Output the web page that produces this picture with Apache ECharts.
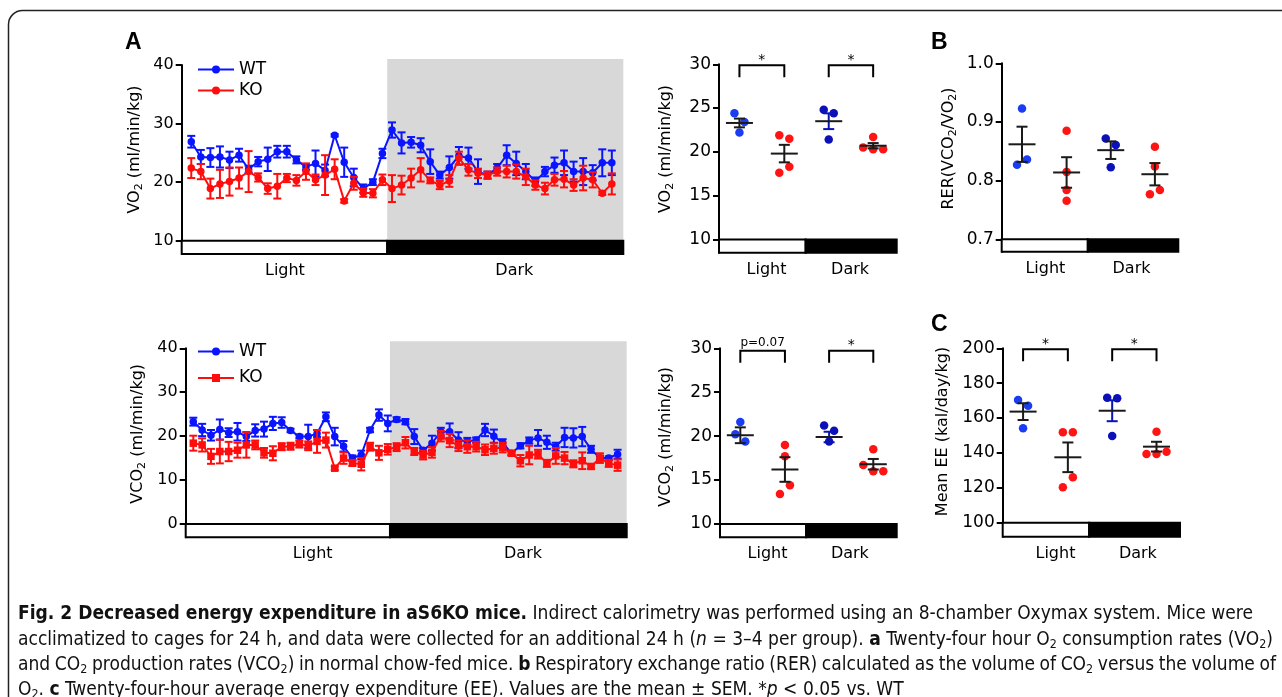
<!DOCTYPE html>
<html>
<head>
<meta charset="utf-8">
<title>Fig. 2</title>
<script src="https://cdn.jsdelivr.net/npm/echarts@6.0.0/dist/echarts.min.js"></script>
<style>
html,body{margin:0;padding:0;background:#fff;width:1282px;height:697px;overflow:hidden;}
#chart{position:absolute;left:0;top:0;width:1282px;height:697px;}
.cl{position:absolute;left:18px;white-space:nowrap;color:#111;font-family:'Liberation Sans Narrow','DejaVu Sans Condensed','Liberation Sans',sans-serif;font-size:18px;line-height:22px;}
.cl sub{font-size:0.65em;vertical-align:-0.25em;line-height:0;}
</style>
</head>
<body>
<div id="chart"></div>
<div id="caption">
<div class="cl" id="l1" data-w="1235" style="top:601px"><b>Fig. 2 Decreased energy expenditure in aS6KO mice.</b> Indirect calorimetry was performed using an 8-chamber Oxymax system. Mice were</div>
<div class="cl" id="l2" data-w="1255" style="top:627px">acclimatized to cages for 24 h, and data were collected for an additional 24 h (<i>n</i> = 3–4 per group). <b>a</b> Twenty-four hour O<sub>2</sub> consumption rates (VO<sub>2</sub>)</div>
<div class="cl" id="l3" data-w="1258" style="top:652px">and CO<sub>2</sub> production rates (VCO<sub>2</sub>) in normal chow-fed mice. <b>b</b> Respiratory exchange ratio (RER) calculated as the volume of CO<sub>2</sub> versus the volume of</div>
<div class="cl" id="l4" style="top:677px">O<sub>2</sub>. <b>c</b> Twenty-four-hour average energy expenditure (EE). Values are the mean ± SEM. *<i>p</i> &lt; 0.05 vs. WT</div>
</div>
<script>
// ---------------- DATA ----------------
const groups = ['WT', 'KO'];
const periods = ['Light', 'Dark'];

// 24-h VO2 time course (ml/min/kg)
const vo2WT = [26.9,24.3,24.2,24.3,23.8,24.6,22.2,23.5,23.9,25.2,25.2,23.8,22.6,23.2,22.0,28.0,23.4,20.8,18.9,20.0,24.9,28.9,26.7,26.8,26.3,23.5,21.2,22.5,24.5,24.1,21.8,21.2,22.4,24.6,23.2,21.8,20.1,21.8,22.9,23.3,21.8,21.8,21.6,23.3,23.3];
const vo2WTsem = [1.0,1.2,1.6,1.8,1.4,1.1,0.6,0.8,2.0,1.0,1.0,0.6,0.5,2.2,1.0,0.2,2.5,1.5,0.7,0.5,0.8,1.3,1.8,0.9,1.2,2.1,0.6,1.9,1.5,1.8,2.1,0.6,0.7,1.7,2.0,1.3,0.7,0.8,1.3,2.1,1.7,2.3,1.3,2.3,2.1];
const vo2KO = [22.4,21.8,18.9,19.7,20.1,20.7,21.8,20.8,18.9,19.3,20.7,20.3,21.8,20.4,21.2,22.2,16.8,19.8,18.2,18.1,20.4,18.9,19.5,20.7,22.1,20.3,19.5,20.2,24.1,22.1,21.5,21.2,21.8,21.8,21.8,20.9,19.5,18.9,20.4,20.5,19.5,20.7,20.4,18.1,19.7];
const vo2KOsem = [1.7,1.3,1.7,2.4,2.4,1.8,3.5,0.7,0.9,2.1,0.7,0.9,1.4,0.9,3.4,1.7,0.3,1.1,0.7,0.7,0.9,2.3,1.6,1.6,2.0,0.5,0.7,1.0,1.1,1.0,0.8,0.6,0.7,1.0,1.2,1.4,0.8,1.0,1.0,1.4,1.0,2.1,1.3,0.3,1.8];

// 24-h VCO2 time course (ml/min/kg)
const vco2WT = [23.3,21.4,20.2,21.5,20.8,21.0,19.9,21.3,21.6,22.9,23.1,21.3,19.9,19.9,20.6,24.4,19.9,17.7,15.0,15.7,21.4,24.8,22.9,23.8,23.3,19.9,16.8,18.4,21.0,21.0,19.1,18.8,19.1,21.4,20.0,18.5,16.1,17.8,19.0,19.6,18.6,17.6,19.7,19.6,19.9,17.0,15.0,15.0,15.9];
const vco2WTsem = [0.9,1.4,1.2,2.3,1.0,2.0,1.0,1.4,1.7,1.5,1.2,0.4,0.4,2.7,0.8,1.0,2.0,1.2,0.6,1.0,0.5,1.3,1.8,0.5,0.6,1.7,0.5,1.7,0.9,1.9,1.8,0.8,0.6,1.4,1.5,0.8,0.4,0.6,0.7,1.8,1.5,0.9,2.2,2.2,2.2,0.8,0.5,0.4,1.0];
const vco2KO = [18.4,18.0,15.4,16.5,16.5,16.8,18.0,18.0,16.2,16.1,17.6,17.7,18.2,17.8,18.8,19.1,12.7,15.0,13.9,13.6,17.6,16.2,17.0,17.5,18.5,16.5,15.7,16.3,20.0,19.0,17.8,17.6,17.6,16.9,17.2,17.4,16.1,14.4,15.7,15.9,13.8,15.5,15.0,13.7,14.4,13.1,15.0,13.8,13.4];
const vco2KOsem = [1.7,1.5,1.7,2.7,2.2,1.7,2.9,1.0,1.1,1.6,0.8,0.8,0.8,1.0,2.6,1.7,0.4,1.3,0.7,1.4,0.9,1.6,1.2,0.9,1.3,0.8,1.0,1.2,1.2,1.5,1.2,1.4,1.1,1.2,1.2,1.1,0.5,1.3,2.1,1.0,0.8,1.8,1.4,0.8,1.9,0.5,1.1,0.8,1.3];

// Per-animal summaries, order: WT Light, KO Light, WT Dark, KO Dark
const summaryGroups = ['WT Light', 'KO Light', 'WT Dark', 'KO Dark'];
const vo2Dots = [[24.4,23.4,22.2],[21.9,21.5,17.6,18.3],[24.8,24.4,21.4],[20.5,21.7,20.3,20.3]];
const vo2Mean = [23.3,19.8,23.5,20.7];
const vo2Sem = [0.5,1.0,0.9,0.3];
const vo2Sig = ['*','*'];

const vco2Dots = [[21.6,20.2,19.4],[19.0,17.7,13.4,14.4],[21.2,20.6,19.4],[16.7,18.5,16.0,16.0]];
const vco2Mean = [20.1,16.2,19.9,16.8];
const vco2Sem = [0.9,1.4,0.6,0.6];
const vco2Sig = ['p=0.07','*'];

const rerDots = [[0.827,0.923,0.836],[0.885,0.815,0.784,0.766],[0.872,0.861,0.823],[0.858,0.824,0.777,0.784]];
const rerMean = [0.862,0.814,0.852,0.811];
const rerSem = [0.030,0.026,0.015,0.019];

const eeDots = [[170.4,167.1,154.1],[151.8,151.8,120.3,126.0],[171.7,171.3,149.7],[152.2,139.4,139.4,140.7]];
const eeMean = [163.7,137.5,164.2,143.6];
const eeSem = [4.8,8.5,6.0,2.8];
const eeSig = ['*','*'];

// tick labels
const vo2TimeTicks = [10,20,30,40];
const vco2TimeTicks = [0,10,20,30,40];
const gasSumTicks = [10,15,20,25,30];
const rerTicks = [0.7,0.8,0.9,1.0];
const eeTicks = [100,120,140,160,180,200];

// ---------------- LAYOUT / STYLE ----------------
const FONT = "'DejaVu Sans', 'Liberation Sans', sans-serif";
const BLUE = '#0a14ff', RED = '#ff0d0d';
const dotColors = ['#1a3cf2', '#ff1414', '#0c10b8', '#ff1414'];
const groupPos = [0.46, 1.47, 2.47, 3.47];
const L = {
  vo2t:  {left:181.7, top:65,    right:623.3,  bottom:254,   xMin:-1,    xMax:45.2,  boundary:20.5,  labelPos:[9.8,33.8],   yMin:7.73,  yMax:40,  barTop:10,  shade:true, shadeOver:6, fs:16, nameGap:37, namePad:20},
  vco2t: {left:185.7, top:348.3, right:626.7,  bottom:537.3, xMin:-0.86, xMax:49.03, boundary:22.25, labelPos:[13.5,37.3],  yMin:-3.03, yMax:40,  barTop:0,   shade:true, shadeOver:7, fs:16, nameGap:38, namePad:18},
  vo2s:  {left:719,   top:64.3,  right:896.7,  bottom:252.7, xMin:0, xMax:4, boundary:1.95, labelPos:[1.07,2.95],  yMin:8.48,  yMax:30,  barTop:10,  fs:17, nameGap:43, namePad:19, brDy:1,   brLeg:12},
  vco2s: {left:720,   top:348.3, right:896.7,  bottom:537.3, xMin:0, xMax:4, boundary:1.95, labelPos:[1.075,2.94], yMin:8.48,  yMax:30,  barTop:10,  fs:17, nameGap:44, namePad:12, brDy:2.5, brLeg:12},
  rer:   {left:1001.7,top:63.3,  right:1178.3, bottom:251.7, xMin:0, xMax:4, boundary:1.95, labelPos:[0.99,2.94],  yMin:0.679, yMax:1.0, barTop:0.7, fs:17, nameGap:43, namePad:18},
  ee:    {left:1002.7,top:348.3, right:1180,   bottom:536.7, xMin:0, xMax:4, boundary:1.95, labelPos:[1.19,3.05],  yMin:91.97, yMax:200, barTop:100, fs:17, nameGap:50, namePad:22, brDy:1,   brLeg:12}
};

const option = {animation:false, backgroundColor:'#fff', grid:[], xAxis:[], yAxis:[], series:[], legend:[], graphic:[]};

function nameRich(parts){ // parts: array of [text, isSub]
  return parts.map(p => (p[1] ? '{s|' : '{a|') + p[0] + '}').join('');
}

function addPanel(i, P, ticks, fmt, name) {
  option.grid.push({left:P.left, top:P.top, width:P.right-P.left, height:P.bottom-P.top, containLabel:false, outerBoundsMode:'none'});
  option.xAxis.push({gridIndex:i, type:'value', min:P.xMin, max:P.xMax,
    axisLine:{show:false, onZero:false}, axisTick:{show:false}, splitLine:{show:false},
    axisLabel:{customValues:P.labelPos, margin:9, color:'#000', fontSize:16, fontFamily:FONT,
      formatter:(v)=>{ let b=0; P.labelPos.forEach((p,k)=>{ if(Math.abs(p-v)<Math.abs(P.labelPos[b]-v)) b=k; }); return periods[b]; }}});
  option.yAxis.push({gridIndex:i, type:'value', min:P.yMin, max:P.yMax, splitLine:{show:false},
    axisLine:{show:true, onZero:false, lineStyle:{color:'#000', width:2}},
    axisTick:{show:true, customValues:ticks, length:6, lineStyle:{color:'#000', width:2}},
    axisLabel:{customValues:ticks, formatter:fmt, margin:8, color:'#000', fontSize:P.fs, fontFamily:FONT},
    name:name, nameLocation:'middle', nameGap:P.nameGap, nameRotate:90, nameMoveOverlap:false,
    nameTextStyle:{color:'#000', fontFamily:FONT, fontSize:16, padding:[0,0,0,P.namePad],
      rich:{a:{fontSize:16, fontFamily:FONT, color:'#000', lineHeight:20},
            s:{fontSize:11, fontFamily:FONT, color:'#000', lineHeight:11, padding:[9,0,0,0]}}}});
  // light/dark bars (and dark-phase shading)
  option.series.push({type:'custom', xAxisIndex:i, yAxisIndex:i, z:1, silent:true, clip:false,
    data:[[P.xMin, P.boundary, 0],[P.boundary, P.xMax, 1]],
    renderItem(params, api){
      const x0=api.value(0), x1=api.value(1), k=api.value(2);
      const a=api.coord([x0,P.barTop]), b=api.coord([x1,P.yMin]);
      const ch=[];
      if(k===1 && P.shade){
        const t=api.coord([x0,P.yMax]);
        ch.push({type:'rect', shape:{x:a[0], y:t[1]-P.shadeOver, width:b[0]-a[0], height:a[1]-t[1]+P.shadeOver}, style:{fill:'#d8d8d8'}});
      }
      ch.push({type:'rect', shape:{x:a[0], y:a[1], width:b[0]-a[0], height:b[1]-a[1]}, style:{fill:k?'#000':'#fff', stroke:'#000', lineWidth:2}});
      return {type:'group', children:ch};
    }});
}

function errSeries(i, vals, sem, color, z){
  return {type:'custom', xAxisIndex:i, yAxisIndex:i, z:z, silent:true,
    data: vals.map((v,k)=>[k, v-sem[k], v+sem[k]]),
    renderItem(params, api){
      const x=api.value(0); const lo=api.coord([x,api.value(1)]), hi=api.coord([x,api.value(2)]);
      const st={stroke:color, lineWidth:2}; const c=4;
      return {type:'group', children:[
        {type:'line', shape:{x1:lo[0],y1:lo[1],x2:hi[0],y2:hi[1]}, style:st},
        {type:'line', shape:{x1:lo[0]-c,y1:lo[1],x2:lo[0]+c,y2:lo[1]}, style:st},
        {type:'line', shape:{x1:hi[0]-c,y1:hi[1],x2:hi[0]+c,y2:hi[1]}, style:st}]};
    }};
}
function lineSeries(i, name, vals, color, symbol, z){
  return {type:'line', name:name, xAxisIndex:i, yAxisIndex:i, z:z, silent:true,
    data: vals.map((v,k)=>[k,v]), symbol:symbol, symbolSize:7.5, showSymbol:true,
    lineStyle:{color:color, width:2}, itemStyle:{color:color, opacity:1}};
}

function swarmOffsets(vals, pxPerUnit){
  const ROW=10, SP=10;
  const idx = vals.map((v,k)=>k).sort((a,b)=>vals[b]-vals[a]);
  const rows=[];
  idx.forEach(k=>{ const r=rows[rows.length-1];
    if(r && (vals[r[0]]-vals[k])*pxPerUnit < ROW) r.push(k); else rows.push([k]); });
  const off=vals.map(()=>0);
  rows.forEach(r=>{ r.sort((a,b)=>a-b); r.forEach((k,j)=>{ off[k]=(j-(r.length-1)/2)*SP; }); });
  return off;
}

function addSummary(i, P, dots, mean, sem, semColors, sig){
  const pxY=(P.bottom-P.top)/(P.yMax-P.yMin), pxX=(P.right-P.left)/(P.xMax-P.xMin);
  const data=[];
  dots.forEach((g,k)=>{ const off=swarmOffsets(g,pxY);
    g.forEach((v,j)=>data.push({value:[groupPos[k]+off[j]/pxX, v], itemStyle:{color:dotColors[k], opacity:1}})); });
  option.series.push({type:'scatter', xAxisIndex:i, yAxisIndex:i, z:4, silent:true, symbol:'circle', symbolSize:8.5, itemStyle:{opacity:1}, data:data});
  option.series.push({type:'custom', xAxisIndex:i, yAxisIndex:i, z:6, silent:true,
    data: mean.map((m,k)=>[groupPos[k], m, sem[k], k]),
    renderItem(params, api){
      const x=api.value(0), m=api.value(1), s=api.value(2), k=api.value(3);
      const c=api.coord([x,m]), lo=api.coord([x,m-s]), hi=api.coord([x,m+s]);
      const bst={stroke:semColors[k], lineWidth:2};
      return {type:'group', children:[
        {type:'line', shape:{x1:lo[0],y1:lo[1],x2:hi[0],y2:hi[1]}, style:bst},
        {type:'line', shape:{x1:lo[0]-5.5,y1:lo[1],x2:lo[0]+5.5,y2:lo[1]}, style:bst},
        {type:'line', shape:{x1:hi[0]-5.5,y1:hi[1],x2:hi[0]+5.5,y2:hi[1]}, style:bst},
        {type:'line', shape:{x1:c[0]-13.5,y1:c[1],x2:c[0]+13.5,y2:c[1]}, style:{stroke:'#1a1a1a', lineWidth:2}}]};
    }});
  if(sig){
    option.series.push({type:'custom', xAxisIndex:i, yAxisIndex:i, z:6, silent:true, clip:false,
      data: sig.map((s,k)=>[groupPos[2*k], groupPos[2*k+1], k]),
      renderItem(params, api){
        const k=api.value(2);
        const a=api.coord([api.value(0),P.yMax]), b=api.coord([api.value(1),P.yMax]);
        const y=a[1]+P.brDy, txt=sig[k], star=(txt==='*');
        return {type:'group', children:[
          {type:'polyline', shape:{points:[[a[0],y+P.brLeg],[a[0],y],[b[0],y],[b[0],y+P.brLeg]]}, style:{stroke:'#000', lineWidth:2, fill:null}},
          {type:'text', style:{text:txt, x:(a[0]+b[0])/2, y:y-(star?5:8), align:'center', verticalAlign:'middle',
            font:(star?'14px ':'12px ')+FONT, fill:'#000'}}]};
      }});
  }
}

// ---------------- BUILD ----------------
const intFmt = v => String(v);
const vo2Name = nameRich([['VO',0],['2',1],[' (ml/min/kg)',0]]);
const vco2Name = nameRich([['VCO',0],['2',1],[' (ml/min/kg)',0]]);
const rerName = nameRich([['RER(VCO',0],['2',1],['/VO',0],['2',1],[')',0]]);
const eeName = nameRich([['Mean EE (kal/day/kg)',0]]);

// panel 0: VO2 time course
addPanel(0, L.vo2t, vo2TimeTicks, intFmt, vo2Name);
option.series.push(errSeries(0, vo2WT, vo2WTsem, BLUE, 2));
option.series.push(lineSeries(0, groups[0]+'|vo2', vo2WT, BLUE, 'circle', 3));
option.series.push(errSeries(0, vo2KO, vo2KOsem, RED, 4));
option.series.push(lineSeries(0, groups[1]+'|vo2', vo2KO, RED, 'circle', 5));
// panel 1: VCO2 time course
addPanel(1, L.vco2t, vco2TimeTicks, intFmt, vco2Name);
option.series.push(errSeries(1, vco2WT, vco2WTsem, BLUE, 2));
option.series.push(lineSeries(1, groups[0]+'|vco2', vco2WT, BLUE, 'circle', 3));
option.series.push(errSeries(1, vco2KO, vco2KOsem, RED, 4));
option.series.push(lineSeries(1, groups[1]+'|vco2', vco2KO, RED, 'rect', 5));
// summaries
const semColorsBlue = ['#1a1a1a','#1a1a1a','#0a14b4','#1a1a1a'];
const semColorsBlack = ['#1a1a1a','#1a1a1a','#1a1a1a','#1a1a1a'];
addPanel(2, L.vo2s, gasSumTicks, intFmt, vo2Name);
addSummary(2, L.vo2s, vo2Dots, vo2Mean, vo2Sem, semColorsBlue, vo2Sig);
addPanel(3, L.vco2s, gasSumTicks, intFmt, vco2Name);
addSummary(3, L.vco2s, vco2Dots, vco2Mean, vco2Sem, semColorsBlue, vco2Sig);
addPanel(4, L.rer, rerTicks, v => v.toFixed(1), rerName);
addSummary(4, L.rer, rerDots, rerMean, rerSem, semColorsBlack, null);
addPanel(5, L.ee, eeTicks, intFmt, eeName);
addSummary(5, L.ee, eeDots, eeMean, eeSem, semColorsBlue, eeSig);

// legends
const legBase = {orient:'vertical', itemWidth:36, itemHeight:10, padding:0, selectedMode:false,
  formatter:n=>n.split('|')[0], textStyle:{fontSize:17, fontFamily:FONT, color:'#000'}};
option.legend.push(Object.assign({}, legBase, {left:197, top:61, itemGap:4, data:groups.map(g=>g+'|vo2')}));
option.legend.push(Object.assign({}, legBase, {left:197, top:343, itemGap:9.5, data:groups.map(g=>g+'|vco2')}));

// frame and panel letters
option.graphic.push({type:'rect', z:0, silent:true, shape:{x:8.5, y:10.5, width:1400, height:900, r:14}, style:{fill:'none', stroke:'#222', lineWidth:1.5}});
[['A',125,31],['B',931,31],['C',931,313]].forEach(t=>{
  option.graphic.push({type:'text', left:t[1], top:t[2], silent:true, style:{text:t[0], font:"bold 23px 'Liberation Sans', Arial, sans-serif", fill:'#000'}});
});

const chart = echarts.init(document.getElementById('chart'), null, {renderer:'canvas'});
chart.setOption(option);

// fit caption: common font size from line 2, then word spacing on the full-width lines to match the printed widths
(function(){
  const lines=[...document.querySelectorAll('.cl')];
  const l2=document.getElementById('l2');
  const fs=18*(+l2.dataset.w)/l2.getBoundingClientRect().width;
  lines.forEach(e=>{ e.style.fontSize=fs.toFixed(2)+'px'; });
  lines.forEach(e=>{
    if(!e.dataset.w) return;
    const w=e.getBoundingClientRect().width, target=+e.dataset.w;
    const spaces=(e.textContent.match(/ /g)||[]).length;
    if(spaces) e.style.wordSpacing=((target-w)/spaces).toFixed(2)+'px';
  });
})();
</script>
</body>
</html>
